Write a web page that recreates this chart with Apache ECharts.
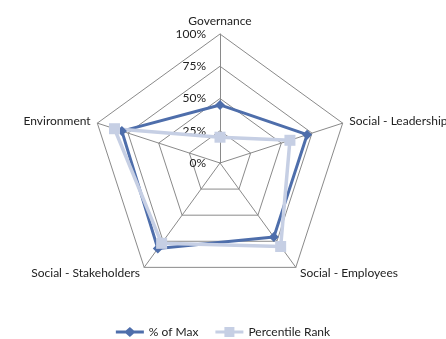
<!DOCTYPE html>
<html>
<head>
<meta charset="utf-8">
<script src="https://cdn.jsdelivr.net/npm/echarts@6/dist/echarts.min.js"></script>
<style>
  html, body { margin: 0; padding: 0; background: #fff; }
  #chart { width: 446px; height: 339px; }
</style>
</head>
<body>
<div id="chart"></div>
<script>
// Radar axes in ECharts order (counter-clockwise from the top)
const categories = ['Governance', 'Environment', 'Social - Stakeholders', 'Social - Employees', 'Social - Leadership'];
// Scores in percent, same order as the axes
const pctOfMax = [45, 80, 82, 71, 71];
const percentileRank = [20, 86, 77, 80, 57];
// Scale tick labels
const tickLabels = ['0%', '25%', '50%', '75%', '100%'];

const FONT = 'Lato, "Liberation Sans", sans-serif';
const CENTER = [220, 163];
const RADIUS = 129;

const chart = echarts.init(document.getElementById('chart'), null, { renderer: 'canvas' });

chart.setOption({
  backgroundColor: '#ffffff',
  animation: false,
  textStyle: { fontFamily: FONT },
  legend: {
    top: 321,
    left: 'center',
    itemWidth: 28,
    itemHeight: 10,
    itemGap: 17,
    textStyle: { fontSize: 12, color: '#222', fontFamily: FONT },
    data: [
      { name: '% of Max', icon: 'path://M0,3.6 L10,3.6 L14,0 L18,3.6 L28,3.6 L28,6.4 L18,6.4 L14,10 L10,6.4 L0,6.4 Z' },
      { name: 'Percentile Rank', icon: 'path://M0,3.4 L9,3.4 L9,0 L19,0 L19,3.4 L28,3.4 L28,6.6 L19,6.6 L19,10 L9,10 L9,6.6 L0,6.6 Z' }
    ]
  },
  radar: {
    center: CENTER,
    radius: RADIUS,
    startAngle: 90,
    shape: 'polygon',
    splitNumber: 4,
    nameGap: 7,
    axisName: { color: '#222', fontSize: 12, fontFamily: FONT },
    axisLine: { lineStyle: { color: '#8a8a8a', width: 1 } },
    splitLine: { lineStyle: { color: '#8a8a8a', width: 1 } },
    splitArea: { show: false },
    indicator: categories.map(name => ({ name: name, min: 0, max: 100 }))
  },
  // Invisible polar system sharing the radar's geometry, used only for the scale labels
  polar: { center: CENTER, radius: RADIUS },
  angleAxis: {
    type: 'value', startAngle: 90, min: 0, max: 360,
    axisLine: { show: false }, axisTick: { show: false },
    axisLabel: { show: false }, splitLine: { show: false }
  },
  radiusAxis: {
    type: 'value', min: 0, max: 100, interval: 25,
    axisLine: { show: false }, axisTick: { show: false }, splitLine: { show: false },
    axisLabel: {
      show: true,
      margin: 14,
      fontSize: 12,
      color: '#222',
      fontFamily: FONT,
      formatter: (v) => tickLabels[Math.round(v / 25)]
    }
  },
  series: [{
    type: 'radar',
    data: [
      {
        name: '% of Max',
        value: pctOfMax,
        symbol: 'diamond',
        symbolSize: 10,
        itemStyle: { color: '#4e6eab' },
        lineStyle: { color: '#4e6eab', width: 3 }
      },
      {
        name: 'Percentile Rank',
        value: percentileRank,
        symbol: 'rect',
        symbolSize: 11,
        itemStyle: { color: '#c6cfe4' },
        lineStyle: { color: '#c6cfe4', width: 3.5 }
      }
    ]
  }]
});
</script>
</body>
</html>
